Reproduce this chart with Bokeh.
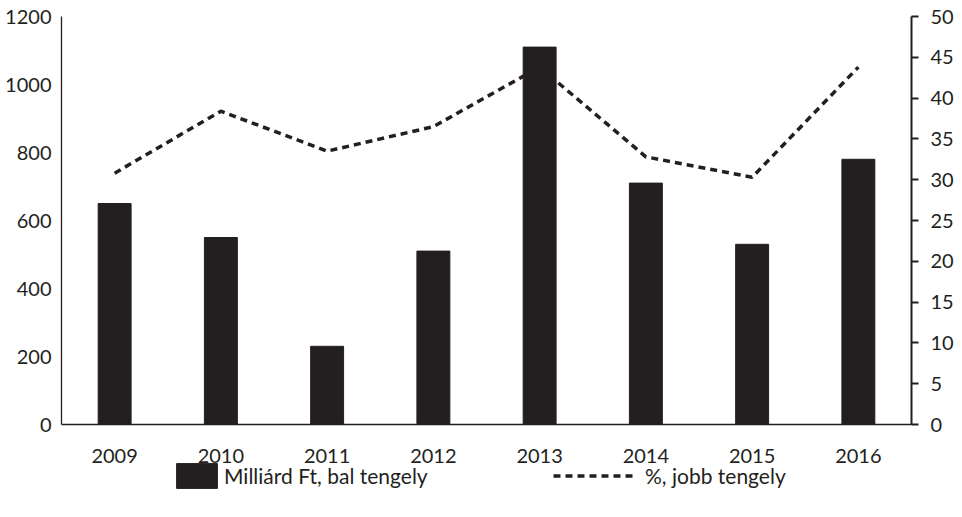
from bokeh.plotting import figure
from bokeh.layouts import column
from bokeh.models import (Range1d, FactorRange, LinearAxis, FixedTicker, Legend,
                          LegendItem, ColumnDataSource)
from bokeh.embed import file_html
from bokeh.resources import INLINE

years = ["2009", "2010", "2011", "2012", "2013", "2014", "2015", "2016"]
billion_ft = [650, 550, 230, 510, 1110, 710, 530, 780]
percent = [30.8, 38.4, 33.5, 36.5, 43.8, 32.8, 30.3, 43.8]
left_ticks = [0, 200, 400, 600, 800, 1000, 1200]
right_ticks = [0, 5, 10, 15, 20, 25, 30, 35, 40, 45, 50]
bar_label = "Milliárd Ft, bal tengely"
line_label = "%, jobb tengely"

INK = "#231f20"
FONT = "Lato"
FS = "20px"
DASH = "7 5"

src = ColumnDataSource(data=dict(year=years, val=billion_ft, pct=percent))

main = figure(x_range=FactorRange(*years, range_padding=0),
              y_range=Range1d(0, 1200),
              frame_width=850, frame_height=408,
              min_border_left=61, min_border_right=41,
              min_border_top=16, min_border_bottom=14,
              output_backend="svg", toolbar_location=None)
main.extra_y_ranges = {"pct": Range1d(0, 50)}
main.outline_line_color = None
main.xgrid.visible = False
main.ygrid.visible = False

main.vbar(x="year", top="val", width=0.31, source=src,
          fill_color=INK, line_color=INK)
main.line(x="year", y="pct", source=src, y_range_name="pct",
          line_color=INK, line_width=3.5, line_dash=DASH)

ya = main.yaxis[0]
ya.ticker = FixedTicker(ticks=left_ticks)
ya.major_tick_out = 0
ya.major_tick_in = 0
ya.minor_tick_out = 0
ya.minor_tick_in = 0
ya.major_label_standoff = 10
ya.axis_line_color = INK
ya.axis_line_width = 1.3
ya.major_label_text_font = FONT
ya.major_label_text_font_size = FS
ya.major_label_text_color = INK

# bottom axis line only (the year labels are drawn by the strip below)
xa = main.xaxis[0]
xa.major_tick_out = 0
xa.major_tick_in = 0
xa.major_label_standoff = 0
xa.major_label_text_font_size = "1px"
xa.major_label_text_color = None
xa.axis_line_color = INK
xa.axis_line_width = 1.3

ra = LinearAxis(y_range_name="pct", ticker=FixedTicker(ticks=right_ticks))
ra.major_tick_out = 7
ra.major_tick_in = 0
ra.minor_tick_out = 0
ra.minor_tick_in = 0
ra.major_tick_line_width = 2
ra.major_tick_line_color = INK
ra.axis_line_width = 2
ra.axis_line_color = INK
ra.major_label_standoff = 12
ra.major_label_text_font = FONT
ra.major_label_text_font_size = FS
ra.major_label_text_color = INK
main.add_layout(ra, "right")

# strip below: year labels + legend (hidden copies of the series supply the keys)
leg = figure(frame_width=850, height=76,
             min_border_left=61, min_border_right=41,
             min_border_top=24, min_border_bottom=0,
             x_range=main.x_range, y_range=Range1d(0, 1200),
             x_axis_location="above", y_axis_location=None,
             output_backend="svg", toolbar_location=None)
leg.extra_y_ranges = {"pct": Range1d(0, 50)}
leg.outline_line_color = None
leg.xgrid.visible = False
leg.ygrid.visible = False
la = leg.xaxis[0]
la.axis_line_color = None
la.major_tick_out = 0
la.major_tick_in = 0
la.major_label_standoff = 0
la.major_label_text_font = FONT
la.major_label_text_font_size = FS
la.major_label_text_color = INK

kbar = leg.vbar(x="year", top="val", width=0.31, source=src,
                fill_color=INK, line_color=INK, visible=False)
kline = leg.line(x="year", y="pct", source=src, y_range_name="pct",
                 line_color=INK, line_width=3.5, line_dash=DASH, visible=False)


def make_legend(item, loc, gw, standoff):
    return Legend(items=[item], location=loc, orientation="horizontal",
                  glyph_width=gw, glyph_height=31, padding=0, margin=0,
                  label_standoff=standoff, border_line_color=None,
                  background_fill_alpha=0, inactive_fill_alpha=0,
                  label_text_font=FONT, label_text_font_size="21px",
                  label_text_color=INK)


leg.add_layout(make_legend(LegendItem(label=bar_label, renderers=[kbar]), (110, 23), 51, 2), "center")
leg.add_layout(make_legend(LegendItem(label=line_label, renderers=[kline]), (492, 23), 80, 12), "center")

p = column(main, leg, spacing=0)
open("out.html", "w").write(file_html(p, INLINE))
